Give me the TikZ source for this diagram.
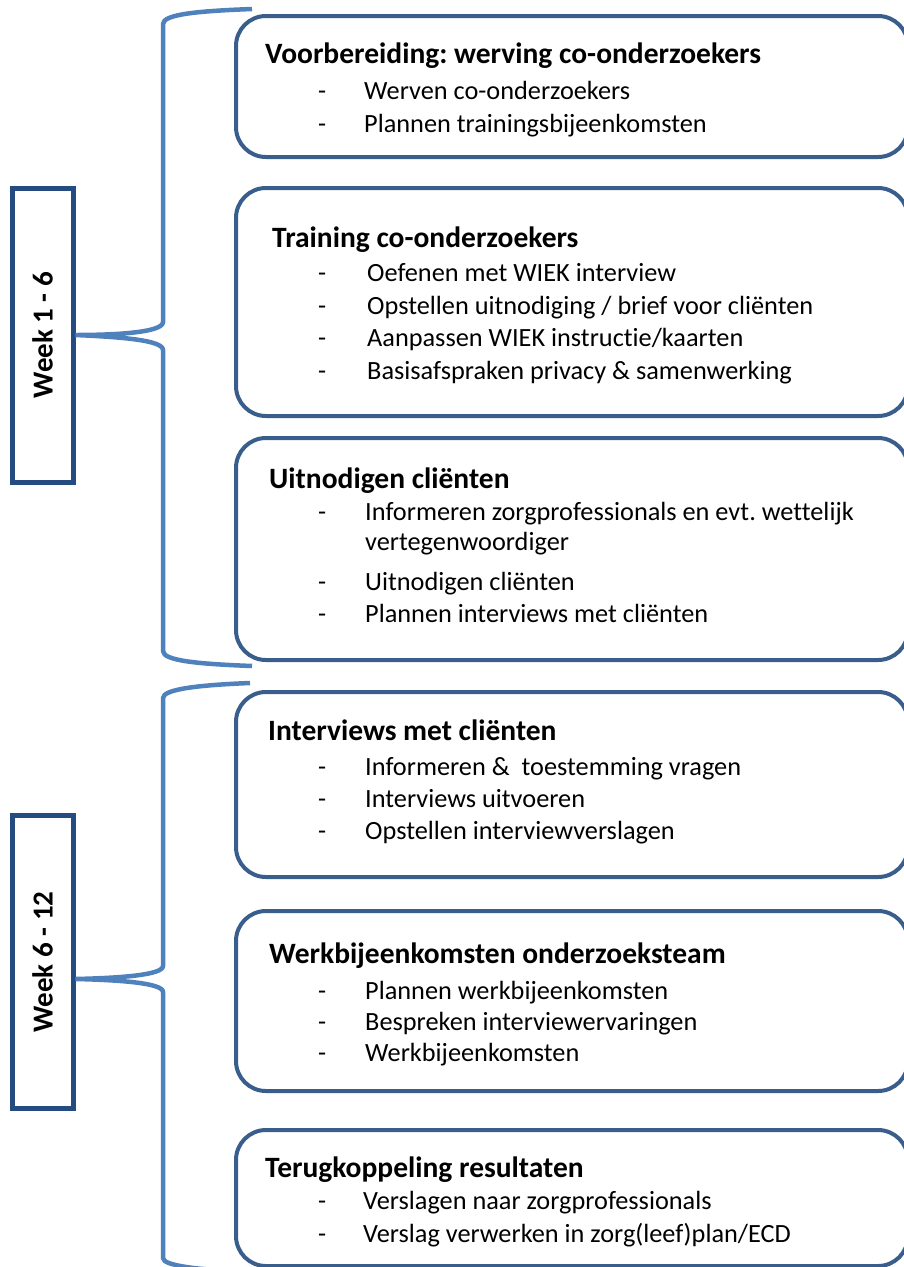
\documentclass[tikz,border=0pt]{standalone}
\usepackage{fontspec}
\usepackage{graphicx}
\setmainfont{Carlito}[Ligatures=NoCommon]
\usetikzlibrary{calc}
\frenchspacing

\definecolor{boxblue}{HTML}{3A5E8C}
\definecolor{weekblue}{HTML}{244C80}
\definecolor{braceblue}{HTML}{4F81BD}

\tikzset{
  taskbox/.style={draw=boxblue, line width=4pt, rounded corners=30pt,
    minimum width=672pt, inner sep=0pt},
  weekbox/.style={draw=weekblue, line width=5pt, minimum width=61pt,
    minimum height=294pt, inner sep=0pt, font=\fontsize{29}{34}\selectfont\bfseries},
  bracket/.style={draw=braceblue, line width=4.5pt},
  head/.style={anchor=base west, inner sep=0pt, font=\fontsize{29.5}{34}\selectfont\bfseries},
  item/.style={anchor=base west, inner sep=0pt, font=\fontsize{26.3}{33}\selectfont},
}

\begin{document}
\begin{tikzpicture}[x=1pt, y=-1pt]

\useasboundingbox (0,0) rectangle (904,1267);

% weken
\node[weekbox] (wk1) at (42.5,335) {\rotatebox{90}{Week 1 - 6}};
\node[weekbox, minimum height=293pt] (wk2) at (42.5,962) {\rotatebox{90}{Week 6 - 12}};

% taakblokken
\node[taskbox, minimum height=141pt] (t1) at (572,86.5) {};
\node[taskbox, minimum height=228pt] (t2) at (572,302) {};
\node[taskbox, minimum height=222pt] (t3) at (572,549) {};
\node[taskbox, minimum height=185pt] (t4) at (572,784.5) {};
\node[taskbox, minimum height=180pt] (t5) at (572,1001) {};
\node[taskbox, minimum height=136pt] (t6) at (572,1198) {};

% accolades
\coordinate (tip2) at ([yshift=-17pt]wk2.east);
\draw[bracket] (252,9) .. controls (200,11) and (163,14) .. (163,24) -- (163,322)
  .. controls (163,332) and (120,335) .. (wk1.east)
  .. controls (120,337) and (163,340) .. (163,350) -- (163,651)
  .. controls (163,661) and (200,664) .. (252,666);
\draw[bracket] (250,683) .. controls (200,685) and (163,689) .. (163,698) -- (163,966)
  .. controls (163,975) and (120,978) .. (tip2)
  .. controls (120,980) and (163,983) .. (163,992) -- (163,1258)
  .. controls (163,1266) and (200,1270) .. (252,1272);

% blok 1
\node[head] (h1) at (265,63) {Voorbereiding: werving co-onderzoekers};
\foreach \y/\t [count=\k] in {99/{Werven co-onderzoekers}, 132/{Plannen trainingsbijeenkomsten}} {
  \node[item] (d1\k) at (318,\y) {-};
  \node[item] (i1\k) at (364,\y) {\t};
}

% blok 2
\node[head] (h2) at (272,247) {Training co-onderzoekers};
\foreach \y/\t [count=\k] in {281/{Oefenen met WIEK interview}, 314/{Opstellen uitnodiging / brief voor cliënten},
  346/{Aanpassen WIEK instructie/kaarten}, 379/{Basisafspraken privacy \& samenwerking}} {
  \node[item] (d2\k) at (318,\y) {-};
  \node[item] (i2\k) at (367,\y) {\t};
}

% blok 3
\node[head] (h3) at (269,488) {Uitnodigen cliënten};
\foreach \y/\t [count=\k] in {520/{Informeren zorgprofessionals en evt. wettelijk}, 590/{Uitnodigen cliënten},
  622/{Plannen interviews met cliënten}} {
  \node[item] (d3\k) at (318,\y) {-};
  \node[item] (i3\k) at (365,\y) {\t};
}
\node[item] (i3w) at (365,550) {vertegenwoordiger};

% blok 4
\node[head] (h4) at (268,740) {Interviews met cliënten};
\foreach \y/\t [count=\k] in {775/{Informeren \&\ \ toestemming vragen}, 807/{Interviews uitvoeren},
  839/{Opstellen interviewverslagen}} {
  \node[item] (d4\k) at (318,\y) {-};
  \node[item] (i4\k) at (365,\y) {\t};
}

% blok 5
\node[head] (h5) at (269,963) {Werkbijeenkomsten onderzoeksteam};
\foreach \y/\t [count=\k] in {999/{Plannen werkbijeenkomsten}, 1030/{Bespreken interviewervaringen},
  1061/{Werkbijeenkomsten}} {
  \node[item] (d5\k) at (318,\y) {-};
  \node[item] (i5\k) at (365,\y) {\t};
}

% blok 6
\node[head] (h6) at (265,1177) {Terugkoppeling resultaten};
\foreach \y/\t [count=\k] in {1209/{Verslagen naar zorgprofessionals}, 1242/{Verslag verwerken in zorg(leef)plan/ECD}} {
  \node[item] (d6\k) at (318,\y) {-};
  \node[item] (i6\k) at (363,\y) {\t};
}

\end{tikzpicture}
\end{document}
